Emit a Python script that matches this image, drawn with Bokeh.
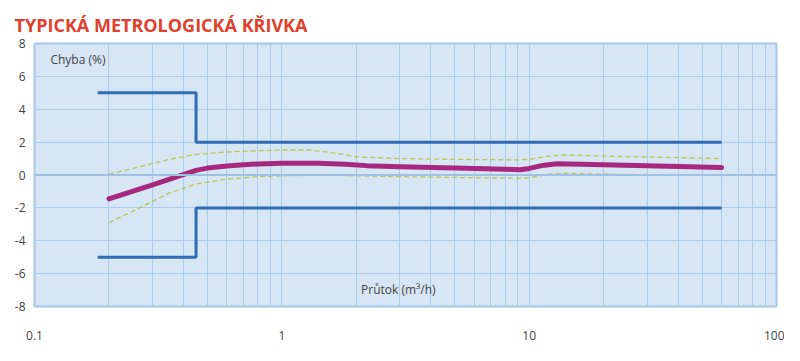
from bokeh.plotting import figure
from bokeh.embed import file_html
from bokeh.resources import INLINE
from bokeh.models import Span, Label, FixedTicker

# ---- data ----
limit_upper_x = [0.18, 0.45, 0.45, 60]
limit_upper_y = [5, 5, 2, 2]
limit_lower_x = [0.18, 0.45, 0.45, 60]
limit_lower_y = [-5, -5, -2, -2]

curve_x = [0.2, 0.3, 0.45, 0.5, 0.6, 0.7, 0.8, 1.0, 1.4, 1.8, 2.2, 3, 5, 8, 9.2, 10, 11.5, 13, 20, 60]
curve_y = [-1.45, -0.6, 0.28, 0.42, 0.55, 0.62, 0.67, 0.72, 0.72, 0.66, 0.57, 0.5, 0.42, 0.35, 0.32, 0.4, 0.6, 0.68, 0.62, 0.45]

band_hi_x = [0.2, 0.25, 0.3, 0.35, 0.45, 0.6, 0.8, 1.0, 1.3, 1.7, 2.0, 3, 5, 9, 10, 12, 14, 20, 60]
band_hi_y = [0.05, 0.4, 0.7, 0.95, 1.25, 1.4, 1.48, 1.52, 1.52, 1.3, 1.1, 1.0, 0.95, 0.92, 0.95, 1.15, 1.22, 1.15, 1.0]

band_lo_x = [0.2, 0.25, 0.3, 0.35, 0.45, 0.6, 0.8, 1.0, 1.5, 2, 3, 5, 9, 10, 12, 14, 20, 60]
band_lo_y = [-2.9, -2.2, -1.6, -1.1, -0.55, -0.25, -0.1, -0.05, 0.0, -0.05, -0.1, -0.15, -0.2, -0.18, 0.05, 0.1, 0.05, -0.03]

y_ticks = [-8, -6, -4, -2, 0, 2, 4, 6, 8]
y_tick_labels = ["-8", "-6", "-4", "-2", "0", "2", "4", "6", "8"]
x_ticks = [0.1, 1, 10, 100]
x_tick_labels = ["0.1", "1", "10", "100"]

title_text = "TYPICKÁ METROLOGICKÁ KŘIVKA"
y_label = "Chyba (%)"
x_label = "Průtok (m³/h)"

FONT = "Open Sans"

p = figure(width=784, height=350, x_axis_type="log", x_range=(0.1, 100), y_range=(-8, 8),
           output_backend="svg", toolbar_location=None,
           min_border_left=34, min_border_right=8, min_border_bottom=44, min_border_top=43)

p.title.text = title_text
p.title.text_font = FONT
p.title.text_font_style = "bold"
p.title.text_font_size = "18px"
p.title.text_color = "#e0402c"
p.title.offset = -20
p.title.standoff = 14

p.background_fill_color = "#d7e6f5"
p.border_fill_color = "white"
p.outline_line_color = "#a6c6e8"
p.outline_line_width = 2

p.xaxis.ticker = FixedTicker(ticks=x_ticks,
                             minor_ticks=[m * d for d in [0.1, 1, 10] for m in range(2, 10)])
p.yaxis.ticker = FixedTicker(ticks=y_ticks)
p.xaxis.major_label_overrides = dict(zip(x_ticks, x_tick_labels))
p.yaxis.major_label_overrides = dict(zip(y_ticks, y_tick_labels))

for ax in (p.xaxis, p.yaxis):
    ax.axis_line_color = None
    ax.major_tick_line_color = None
    ax.minor_tick_line_color = None
    ax.major_label_text_font = FONT
    ax.major_label_text_font_size = "12px"
    ax.major_label_text_color = "#444444"
p.xaxis.major_label_standoff = 18
p.yaxis.major_tick_out = 0
p.yaxis.minor_tick_out = 0
p.yaxis.major_label_standoff = 9

p.xgrid.grid_line_color = "#aecbea"
p.xgrid.grid_line_width = 1
p.xgrid.minor_grid_line_color = "#aecbea"
p.xgrid.minor_grid_line_width = 1
p.ygrid.grid_line_color = "#aecbea"
p.ygrid.grid_line_width = 1

p.add_layout(Span(location=0, dimension="width", line_color="#9fc1e6", line_width=2))

# limits
p.line(limit_upper_x, limit_upper_y, line_color="#2f6db5", line_width=3)
p.line(limit_lower_x, limit_lower_y, line_color="#2f6db5", line_width=3)

# band
p.line(band_hi_x, band_hi_y, line_color="#b7c94c", line_width=1.3, line_dash="5 3")
p.line(band_lo_x, band_lo_y, line_color="#b7c94c", line_width=1.3, line_dash="5 3")

# curve
p.line(curve_x, curve_y, line_color="#a9287f", line_width=5, line_join="round", line_cap="round")

p.add_layout(Label(x=0.116, y=7.0, text=y_label, text_font=FONT, text_font_size="12px",
                   text_color="#444444", text_baseline="middle"))
p.add_layout(Label(x=2.09, y=-6.95, text=x_label, text_font=FONT, text_font_size="12px",
                   text_color="#444444", text_baseline="middle"))

open("out.html", "w").write(file_html(p, INLINE))
